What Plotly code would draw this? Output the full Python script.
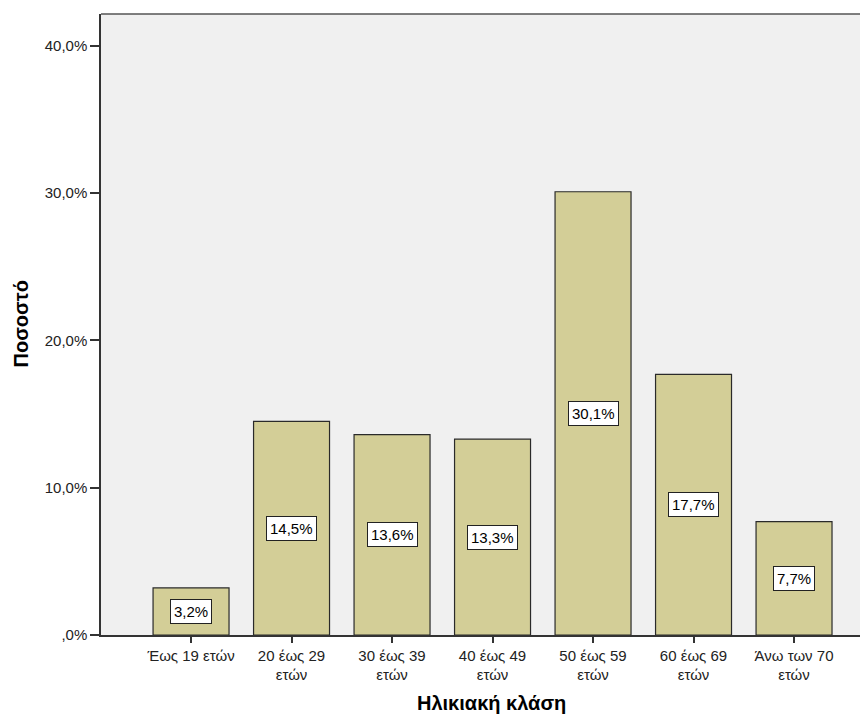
import plotly.graph_objects as go

categories = ["Έως 19 ετών", "20 έως 29<br>ετών", "30 έως 39<br>ετών", "40 έως 49<br>ετών",
              "50 έως 59<br>ετών", "60 έως 69<br>ετών", "Άνω των 70<br>ετών"]
values = [3.2, 14.5, 13.6, 13.3, 30.1, 17.7, 7.7]
value_labels = ["3,2%", "14,5%", "13,6%", "13,3%", "30,1%", "17,7%", "7,7%"]
y_tickvals = [0, 10, 20, 30, 40]
y_ticktext = [",0%", "10,0%", "20,0%", "30,0%", "40,0%"]
x_title = "Ηλικιακή κλάση"
y_title = "Ποσοστό"

xpos = list(range(len(categories)))
FONT = "Liberation Sans, Arial, sans-serif"

fig = go.Figure()
fig.add_trace(go.Bar(
    x=xpos, y=values, width=0.756,
    marker=dict(color="#d3ce97", line=dict(color="#2a2a2a", width=1.2)),
    hoverinfo="skip",
))

for i, (v, lab) in enumerate(zip(values, value_labels)):
    fig.add_annotation(x=i, y=v / 2, text=lab, showarrow=False,
                       font=dict(family=FONT, size=15, color="black"),
                       bgcolor="white", bordercolor="#222", borderwidth=1, borderpad=3)

fig.add_shape(type="line", xref="paper", yref="paper", x0=0, x1=1, y0=1, y1=1,
              line=dict(color="#555", width=1.5))

# axis titles
fig.add_annotation(xref="paper", yref="paper", x=0.509, y=0, yshift=-68,
                   xanchor="center", yanchor="middle", showarrow=False,
                   text="<b>" + x_title + "</b>", font=dict(family=FONT, size=20, color="black"))
fig.add_annotation(xref="paper", yref="paper", x=0, y=0.5, xshift=-81,
                   xanchor="center", yanchor="middle", showarrow=False, textangle=-90,
                   text="<b>" + y_title + "</b>", font=dict(family=FONT, size=20, color="black"))

fig.update_layout(
    width=860, height=708,
    margin=dict(l=93, r=0, t=6, b=81, autoexpand=False),
    paper_bgcolor="white", plot_bgcolor="#f0f0f0",
    showlegend=False,
    font=dict(family=FONT, size=15, color="#222"),
    xaxis=dict(range=[-0.896, 6.736], tickvals=xpos, ticktext=categories,
               ticks="outside", ticklen=6, tickcolor="#333", tickwidth=1.5,
               showline=True, linecolor="#333", linewidth=1.5, showgrid=False,
               zeroline=False, tickangle=0, automargin=False,
               tickfont=dict(family=FONT, size=15, color="#222")),
    yaxis=dict(range=[0, 42.17], tickvals=y_tickvals, ticktext=y_ticktext,
               ticks="outside", ticklen=9, tickcolor="#333", tickwidth=1.5,
               showline=True, linecolor="#333", linewidth=1.5, showgrid=False,
               zeroline=False, automargin=False,
               tickfont=dict(family=FONT, size=15, color="#222")),
)

fig.write_html("out.html")
